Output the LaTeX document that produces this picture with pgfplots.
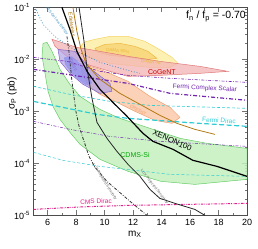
\documentclass[border=0pt]{standalone}
\usepackage{fontspec}
\setmainfont{Liberation Sans}
\usepackage{pgfplots}
\pgfplotsset{compat=1.18}
\definecolor{grfill}{HTML}{C4F0BE}
\definecolor{grline}{HTML}{66CC66}
\definecolor{d3fill}{HTML}{FDEDA6}
\definecolor{d3line}{HTML}{F5D466}
\definecolor{d9fill}{HTML}{F9D77A}
\definecolor{d9line}{HTML}{EBB840}
\definecolor{cgfill}{HTML}{F3B3B3}
\definecolor{cgline}{HTML}{E07878}
\definecolor{crfill}{HTML}{FAC6A6}
\definecolor{crline}{HTML}{F0A070}
\definecolor{pufill}{HTML}{B0A2E6}
\definecolor{puline}{HTML}{8466C8}
\definecolor{blfill}{HTML}{8C8CEA}
\definecolor{fermip}{HTML}{7226B0}
\definecolor{fermic}{HTML}{30CCD4}
\definecolor{cms}{HTML}{E0208A}
\definecolor{edel}{HTML}{B27A12}
\definecolor{cdmsge}{HTML}{3A8FC0}
\begin{document}
\begin{tikzpicture}
\begin{axis}[
  scale only axis, width=213.5pt, height=208pt,
  xmin=5, xmax=20, ymin=1e-5, ymax=0.1, ymode=log,
  xtick={6,8,...,20}, minor x tick num=1,
  ytick={1e-5,1e-4,1e-3,1e-2,1e-1},
  yticklabels={10\textsuperscript{-5},10\textsuperscript{-4},10\textsuperscript{-3},10\textsuperscript{-2},10\textsuperscript{-1}},
  tick align=inside, major tick length=5pt, minor tick length=2.5pt,
  every tick/.style={black!55, line width=0.5pt},
  /pgf/number format/assume math mode=true,
  ticklabel style={font=\fontsize{9}{10}\selectfont},
  xlabel={m\textsubscript{X}}, ylabel={σ\textsubscript{P} (pb)},
  label style={font=\fontsize{10}{12}\selectfont},
  x label style={at={(axis description cs:0.475,-0.09)}, anchor=center},
  y label style={at={(axis description cs:-0.1,0.587)}, anchor=center},
  axis line style={black!70, line width=0.6pt},
]
% CDMS-Si (green)
\addplot[draw=grline, fill=grfill, fill opacity=0.85, line width=0.5pt] coordinates {
(5.67,0.0203) (5.95,0.0212) (6.30,0.01426) (6.86,0.00643) (7.56,0.0033) (8.27,0.00194)
(9.67,0.00109) (11.07,7.33e-4) (13.18,4.71e-4) (15.29,3.03e-4) (17.18,2.43e-4) (20,1.94e-4)
(20,4.92e-5) (16.34,3.94e-5) (13.95,4.51e-5) (11.64,7.02e-5) (9.67,1.194e-4) (8.27,2.32e-4)
(7.56,3.94e-4) (6.86,7.02e-4) (6.37,1.247e-3) (6.02,2.43e-3) (5.81,5.38e-3) (5.60,0.01143)
} -- cycle;
% DAMA 3 sigma
\addplot[draw=d3line, fill=d3fill, fill opacity=0.85, line width=0.5pt] coordinates {
(8.27,0.0170) (8.55,0.0215) (9.32,0.0243) (10.37,0.0277) (11.64,0.0277) (12.83,0.0222)
(13.95,0.0149) (14.73,0.01092) (15.15,0.00838) (14.59,0.00702) (13.18,0.00702)
(11.64,0.00767) (10.37,0.00838) (9.32,0.01) (8.62,0.01194)
} -- cycle;
% DAMA 90
\addplot[draw=d9line, fill=d9fill, fill opacity=0.9, line width=0.5pt] coordinates {
(9.32,0.0163) (10.02,0.0194) (11.07,0.0203) (12.13,0.01778) (13.04,0.01426) (13.67,0.01045)
(13.04,0.01) (11.78,0.01092) (10.37,0.01194) (9.53,0.01365)
} -- cycle;
% CoGeNT
\addplot[draw=cgline, fill=cgfill, fill opacity=0.75, line width=0.5pt] coordinates {
(6.30,0.0243) (8.05,0.0170) (9.67,0.01426) (11.64,0.01143) (13.88,0.00916) (16.69,0.00733)
(18.66,0.00588) (16.69,0.00538) (13.88,0.00492) (11.64,0.00471) (10.37,0.00588)
(8.97,0.00767) (7.35,0.01143) (6.51,0.01778)
} -- cycle;
% CRESST (orange)
\addplot[draw=crline, fill=crfill, fill opacity=0.8, line width=0.5pt] coordinates {
(8.27,0.00838) (9.67,0.00643) (11.64,0.00378) (13.18,0.00194) (14.59,0.001194) (15.29,7.67e-4)
(14.73,5.88e-4) (13.53,6.71e-4) (12.13,0.001) (10.72,0.001556) (9.67,0.00212) (8.83,0.00316)
(8.41,0.00538)
} -- cycle;
% purple blob
\addplot[draw=puline, fill=pufill, fill opacity=0.7, line width=0.5pt] coordinates {
(6.72,0.01556) (7.91,0.01426) (8.97,0.00671) (10.37,0.00345) (10.51,0.00243) (9.67,0.00222)
(8.48,0.0033) (7.56,0.00538) (6.86,0.00916)
} -- cycle;
\addplot[draw=none, fill=blfill, fill opacity=0.7] coordinates {
(7.14,0.01092) (7.70,0.01143) (8.27,0.00838) (8.83,0.00538) (9.11,0.00345) (8.69,0.00316)
(8.13,0.00412) (7.56,0.00588) (7.21,0.00802)
} -- cycle;
% Fermi complex scalar
\addplot[fermip, line width=0.6pt, dash pattern=on 3pt off 1.5pt on 0.8pt off 1.5pt] coordinates {
(5,0.01092) (7.35,0.00916) (9.67,0.00588) (11.64,0.00492) (14.59,0.00432) (20,0.00361)};
\addplot[fermip, line width=1.2pt, dash pattern=on 4pt off 2pt on 1pt off 2pt] coordinates {
(5,0.00643) (8.27,0.00471) (11.64,0.00345) (14.59,0.00222) (20,0.00163)};
\addplot[fermip, line width=0.5pt, dash pattern=on 3pt off 1.5pt on 0.8pt off 1.5pt] coordinates {
(5,6.43e-4) (7.56,4.51e-4) (10.37,3.30e-4) (13.88,2.65e-4) (20,2.12e-4)};
% Fermi Dirac
\addplot[fermic, line width=0.6pt, dash pattern=on 3pt off 2pt] coordinates {
(5,0.00303) (7.56,0.00212) (10.37,0.001556) (13.18,0.001303) (20,0.001143)};
\addplot[fermic, line width=1.2pt, dash pattern=on 5pt off 2.5pt] coordinates {
(5,1.556e-3) (9.46,8.75e-4) (11.64,7.33e-4) (16.69,5.88e-4) (20,5.15e-4)};
\addplot[fermic, line width=0.5pt, dash pattern=on 3pt off 2pt] coordinates {
(5,1.63e-4) (7.07,1.143e-4) (9.67,8.75e-5) (14.59,6.14e-5) (20,5.62e-5)};
% CMS Dirac
\addplot[cms, line width=1pt, dash pattern=on 2.5pt off 1pt on 0.6pt off 1pt on 0.6pt off 1pt] coordinates {
(5,1.303e-5) (8.27,1.45e-5) (11.64,1.556e-5) (20,1.70e-5)};
% CDMS-Ge low energy
\addplot[cdmsge, line width=0.8pt, dotted] coordinates {
(5.10,0.1) (5.67,0.0471) (6.65,0.0254) (8.05,0.01426) (9.67,0.00875) (11.64,0.00614) (12.48,0.00538)};
% Edelweiss
\addplot[edel, line width=0.8pt] coordinates {
(7.77,0.1) (8.05,0.0345) (8.34,0.01556) (8.69,0.00838) (9.67,0.00412) (11.07,0.00222)
(12.48,0.001365) (13.88,8.38e-4) (15.08,5.88e-4) (16.34,4.51e-4) (17.75,3.61e-4)};
% LUX projected (dash-dot)
\addplot[black!80, line width=0.8pt, dash pattern=on 3pt off 1.5pt on 0.8pt off 1.5pt] coordinates {
(7.35,0.0277) (7.49,0.01426) (7.70,0.00378) (7.98,0.001) (8.20,5.15e-4) (8.55,2.65e-4)
(8.90,1.365e-4) (9.32,8.38e-5) (10.16,4.51e-5) (11.78,1.86e-5) (12.97,1e-5)};
% LUX projected (solid)
\addplot[black!85, line width=0.8pt] coordinates {
(8.20,0.1) (8.55,0.0222) (8.76,0.00671) (9.11,0.001778) (9.46,6.14e-4) (10.16,3.03e-4)
(10.86,1.70e-4) (11.64,9.57e-5) (12.48,5.62e-5) (13.18,3.16e-5) (13.88,2.12e-5)
(14.94,1.70e-5) (16.34,1.30e-5) (17.04,1.0e-5)};
% XENON100
\addplot[black, line width=1.2pt] coordinates {
(7.00,0.1) (7.56,0.0378) (8.05,0.01426) (8.76,0.00588) (9.67,0.00265) (10.72,0.001365)
(11.57,8.02e-4) (12.69,3.78e-4) (13.39,2.65e-4) (14.80,1.86e-4) (16.20,1.143e-4)
(17.89,8.75e-5) (20,5.62e-5)};
% labels
\node[text=d9line, font=\fontsize{4.5}{5}\selectfont, rotate=-5] at (axis cs:10.93,0.01455) {DAMA 90\%};
\node[text=d9line, font=\fontsize{4.5}{5}\selectfont, rotate=-5] at (axis cs:13.25,0.00895) {DAMA 3σ};
\node[text=red!80!black, font=\fontsize{7}{8}\selectfont] at (axis cs:14.02,0.00562) {CoGeNT};
\node[text=fermip, font=\fontsize{6.5}{7}\selectfont, rotate=-3] at (axis cs:17.04,0.00277) {Fermi Complex Scalar};
\node[text=fermic, font=\fontsize{6.5}{7}\selectfont, rotate=-3] at (axis cs:18.03,6.71e-4) {Fermi Dirac};
\node[text=black, font=\fontsize{8}{9}\selectfont, rotate=-24] at (axis cs:14.75,2.75e-4) {XENON100};
\node[text=green!65!black, font=\fontsize{7}{8}\selectfont] at (axis cs:12.13,1.426e-4) {CDMS-Si};
\node[text=cms, font=\fontsize{6.5}{7}\selectfont, rotate=2] at (axis cs:9.39,1.86e-5) {CMS Dirac};
\node[text=crline, font=\fontsize{4.5}{5}\selectfont, rotate=-30] at (axis cs:12.34,1.05e-3) {CRESST};
\node[text=puline, font=\fontsize{4}{4.5}\selectfont, rotate=-65] at (axis cs:7.77,0.008) {CDMS II};
\node[text=edel, font=\fontsize{5.5}{6}\selectfont, rotate=-82] at (axis cs:7.7,0.0471) {Edelweiss};
\node[text=cdmsge, font=\fontsize{3.8}{4.5}\selectfont, rotate=-52] at (axis cs:6.55,0.06) {CDMS-Ge Low Energy};
\node[text=black!60, font=\fontsize{3.8}{4.5}\selectfont, rotate=-58] at (axis cs:10.0,4.4e-5) {LUX Projected Sensitivity};
\node[text=black!60, font=\fontsize{3.8}{4.5}\selectfont, rotate=-52] at (axis cs:13.5,3.5e-5) {LUX Projected Sensitivity};
\node[anchor=east, font=\fontsize{10.5}{12}\selectfont, inner sep=1pt] at (axis cs:20,0.067) {f\textsubscript{n} / f\textsubscript{p} = -0.70};
\end{axis}
\path ([shift={(-33.5pt,-33pt)}]current axis.south west) rectangle ([shift={(11pt,6pt)}]current axis.north east);
\end{tikzpicture}
\end{document}
